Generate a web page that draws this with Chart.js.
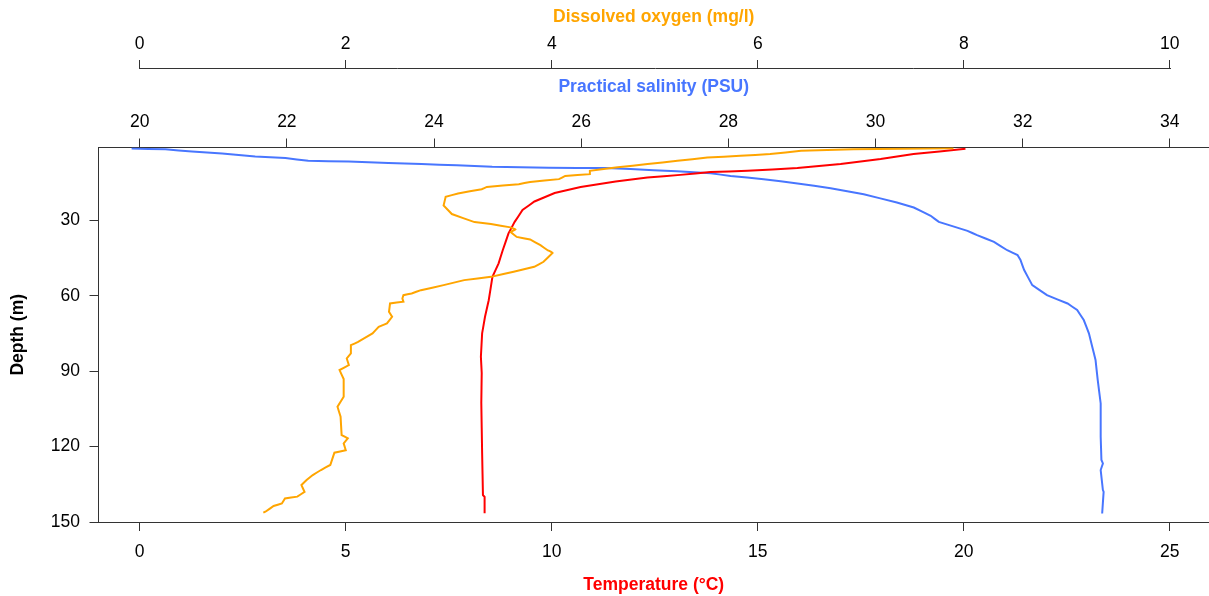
<!DOCTYPE html>
<html lang="en">
<head>
    <meta charset="UTF-8" />
    <title>CTD profile</title>
    <script src="https://cdn.jsdelivr.net/npm/chart.js"></script>
    <style>
        html, body { margin: 0; padding: 0; background: #fff; }
    </style>
</head>
<body>
    <canvas id="chart" width="1209" height="596"></canvas>

    <script>
        // Temperature profile (depth in m, value in °C)
        const tempDepth = [1.4, 3.5, 5.5, 7.5, 9.1, 10.2, 10.7, 11.8, 12.8, 14.4, 16.6, 19.0, 22.4, 25.8, 30.5,
            35.1, 41.8, 47.0, 52.4, 61.7, 68.3, 74.9, 84.2, 90.7, 102.6, 122.5, 139.3, 140.0, 146.5];
        const tempValue = [20.04, 18.78, 17.98, 17.01, 15.96, 14.75, 13.85, 13.12, 12.32, 11.55, 10.70, 10.07, 9.58, 9.29, 9.10,
            8.95, 8.81, 8.71, 8.56, 8.47, 8.38, 8.31, 8.28, 8.30, 8.29, 8.31, 8.33, 8.37, 8.37];

        // Salinity profile (PSU)
        const salDepth = [1.3, 1.6, 2.5, 3.3, 4.5, 5.1, 6.2, 6.5, 7.1, 7.5, 8.0, 8.6, 9.0, 9.1, 9.5,
            10.4, 11.2, 12.2, 13.5, 15.2, 17.1, 19.5, 22.8, 24.8, 28.1, 30.5, 34.1, 35.8, 38.5, 41.8,
            43.7, 45.7, 49.7, 55.7, 59.7, 63.0, 65.6, 69.6, 74.9, 79.6, 85.5, 93.5, 102.8, 116.1, 125.3,
            126.7, 129.3, 137.3, 138.0, 146.6];
        const salValue = [19.89, 20.35, 20.71, 21.12, 21.57, 21.98, 22.29, 22.84, 23.38, 23.83, 24.31, 24.79, 25.56, 26.33, 26.67,
            27.30, 27.76, 28.03, 28.48, 28.94, 29.39, 29.84, 30.29, 30.52, 30.75, 30.86, 31.25, 31.38, 31.61, 31.79,
            31.93, 31.97, 32.02, 32.13, 32.33, 32.61, 32.74, 32.83, 32.90, 32.94, 32.99, 33.02, 33.06, 33.06, 33.07,
            33.09, 33.06, 33.09, 33.10, 33.08];

        // Dissolved oxygen profile (mg/l)
        const oxyDepth = [1.15, 1.55, 2.2, 3.5, 4.2, 4.9, 6.2, 7.5, 8.8, 10.2, 11.5, 12.2, 13.5, 14.6, 15.5,
            16.6, 17.5, 19.2, 20.5, 24.0, 27.4, 30.6, 31.4, 32.7, 33.5, 34.5, 36.5, 37.5, 39.8, 41.8,
            42.8, 46.4, 48.4, 50.4, 52.4, 53.7, 55.7, 57.7, 59.0, 59.7, 61.0, 62.3, 63.0, 66.3, 68.3,
            70.9, 72.3, 74.9, 78.3, 79.6, 82.9, 84.9, 87.5, 89.5, 93.1, 100.1, 104.1, 108.1, 115.4, 116.7,
            118.7, 121.4, 122.4, 127.3, 129.3, 131.3, 133.3, 135.3, 138.0, 139.9, 140.6, 142.6, 143.6, 145.9, 146.3];
        const oxyValue = [7.90, 6.93, 6.42, 6.12, 5.83, 5.51, 5.22, 4.93, 4.64, 4.37, 4.37, 4.13, 4.07, 3.79, 3.68,
            3.37, 3.32, 3.09, 2.97, 2.95, 3.03, 3.25, 3.41, 3.60, 3.65, 3.60, 3.66, 3.79, 3.89, 3.96,
            4.01, 3.92, 3.83, 3.63, 3.41, 3.15, 2.95, 2.73, 2.64, 2.56, 2.55, 2.56, 2.43, 2.42, 2.45,
            2.40, 2.32, 2.26, 2.12, 2.05, 2.05, 2.01, 2.03, 1.94, 1.98, 1.98, 1.92, 1.95, 1.96, 2.02,
            1.98, 2.00, 1.89, 1.85, 1.76, 1.68, 1.62, 1.57, 1.60, 1.53, 1.41, 1.38, 1.30, 1.22, 1.20];

        // Axis ticks
        const depthTicks = [30, 60, 90, 120, 150];
        const tempTicks = [0, 5, 10, 15, 20, 25];
        const salTicks = [20, 22, 24, 26, 28, 30, 32, 34];
        const oxyTicks = [0, 2, 4, 6, 8, 10];

        const FAMILY = "'Liberation Sans', Arial, Helvetica, sans-serif";
        const AXIS_COLOR = '#333';
        const BLUE = '#4876FF';
        const RED = '#FF0000';
        const ORANGE = '#FFA500';

        function toPoints(depth, values) {
            return depth.map((d, i) => ({ x: values[i], y: d }));
        }

        // Shared look for every axis
        function axis(opts) {
            return {
                type: 'linear',
                position: opts.position,
                min: opts.min,
                max: opts.max,
                reverse: !!opts.reverse,
                weight: opts.weight || 0,
                afterBuildTicks: (s) => { s.ticks = opts.ticks.map(v => ({ value: v })); },
                afterFit: (s) => {
                    if (opts.position === 'left') s.width = opts.size;
                    else s.height = opts.size;
                },
                grid: { drawOnChartArea: false, drawTicks: true, tickLength: 9, color: AXIS_COLOR, lineWidth: 1 },
                border: { display: opts.border !== false, color: AXIS_COLOR, width: 1 },
                ticks: {
                    color: '#000',
                    font: { family: FAMILY, size: 17.5 },
                    padding: opts.pad,
                    autoSkip: false,
                    maxRotation: 0,
                    minRotation: 0
                },
                title: {
                    display: true,
                    text: opts.title,
                    color: opts.titleColor,
                    font: { family: FAMILY, size: 17.5, weight: 'bold' },
                    padding: opts.titlePad
                }
            };
        }

        // Oxygen axis line only runs between its first and last tick
        const oxyAxisLine = {
            id: 'oxyAxisLine',
            afterDraw(chart) {
                const s = chart.scales.xOxy;
                const ctx = chart.ctx;
                const y = Math.round(s.bottom) - 0.5;
                ctx.save();
                ctx.strokeStyle = AXIS_COLOR;
                ctx.lineWidth = 1;
                ctx.beginPath();
                ctx.moveTo(Math.round(s.getPixelForValue(oxyTicks[0])), y);
                ctx.lineTo(Math.round(s.getPixelForValue(oxyTicks[oxyTicks.length - 1])) + 1, y);
                ctx.stroke();
                ctx.restore();
            }
        };

        const lineStyle = { borderWidth: 2, pointRadius: 0, fill: false, tension: 0.0001, yAxisID: 'y' };

        new Chart(document.getElementById('chart'), {
            type: 'line',
            data: {
                datasets: [
                    Object.assign({ label: 'Dissolved oxygen', data: toPoints(oxyDepth, oxyValue), borderColor: ORANGE, xAxisID: 'xOxy' }, lineStyle),
                    Object.assign({ label: 'Temperature', data: toPoints(tempDepth, tempValue), borderColor: RED, xAxisID: 'x' }, lineStyle),
                    Object.assign({ label: 'Practical salinity', data: toPoints(salDepth, salValue), borderColor: BLUE, xAxisID: 'xSal' }, lineStyle)
                ]
            },
            options: {
                responsive: false,
                animation: false,
                layout: { padding: 0 },
                plugins: { legend: { display: false }, tooltip: { enabled: false } },
                scales: {
                    x: axis({ position: 'bottom', min: -1, max: 25.95, ticks: tempTicks, size: 74, pad: 10.5,
                        title: 'Temperature (°C)', titleColor: RED, titlePad: { top: 0, bottom: 0.5 } }),
                    xSal: axis({ position: 'top', min: 19.44, max: 34.532, ticks: salTicks, size: 78.5, pad: 5.5, weight: 0,
                        title: 'Practical salinity (PSU)', titleColor: BLUE, titlePad: { top: 7.5, bottom: 0 } }),
                    xOxy: axis({ position: 'top', min: -0.4, max: 10.38, ticks: oxyTicks, size: 69, pad: 5.5, weight: 1, border: false,
                        title: 'Dissolved oxygen (mg/l)', titleColor: ORANGE, titlePad: { top: 6.5, bottom: 0 } }),
                    y: axis({ position: 'left', min: 0.9, max: 150, reverse: true, ticks: depthTicks, size: 98.5, pad: 9.5,
                        title: 'Depth (m)', titleColor: '#000', titlePad: { top: 7.5, bottom: 0 } })
                }
            },
            plugins: [oxyAxisLine]
        });
    </script>
</body>
</html>
